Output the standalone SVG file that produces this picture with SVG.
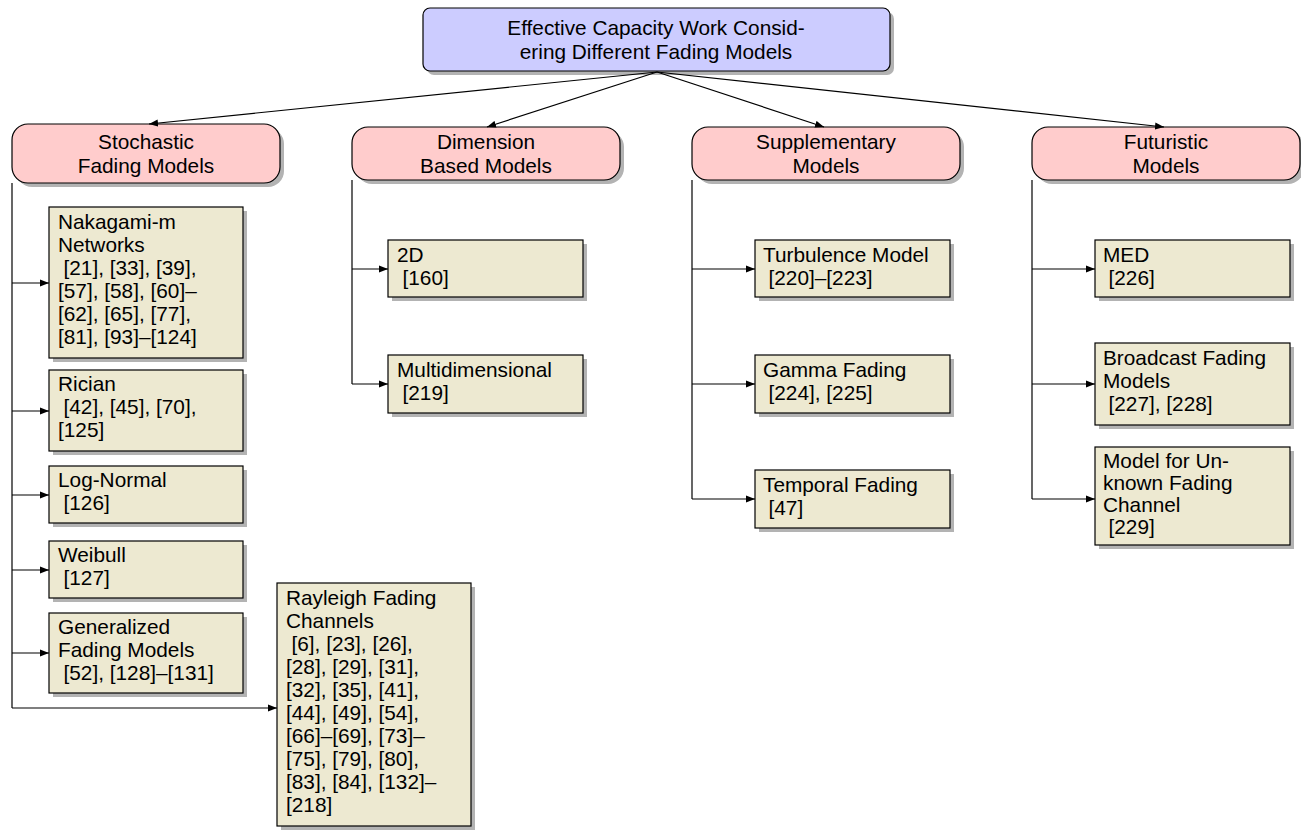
<svg xmlns="http://www.w3.org/2000/svg" width="1301" height="833" viewBox="0 0 1301 833">
<style>
text{font-family:"Liberation Sans",Arial,Helvetica,sans-serif;font-size:20.8px;fill:#000}
.c{text-anchor:middle}
.shadow{fill:#b3b3b3;stroke:none}
.root{fill:#ccccff;stroke:#000;stroke-width:1.2}
.cat{fill:#ffcccc;stroke:#000;stroke-width:1.2}
.leaf{fill:#ede9d1;stroke:#000;stroke-width:1.2}
.conn line,.conn polyline{fill:none;stroke:#000;stroke-width:1.2}
</style>
<defs>
<marker id="ah" markerUnits="userSpaceOnUse" markerWidth="10" markerHeight="8" refX="9" refY="4" orient="auto">
<path d="M0,0.5 L9,4 L0,7.5 Z" fill="#000"/>
</marker>
</defs>
<rect width="1301" height="833" fill="#fff"/>

<g id="root">
<rect class="shadow" x="427" y="12" width="467" height="63" rx="7"/>
<rect class="root" x="423" y="8" width="467" height="63" rx="7"/>
<text class="c"><tspan x="656" y="35">Effective Capacity Work Consid-</tspan><tspan x="656" y="59">ering Different Fading Models</tspan></text>
</g>

<g id="stochastic">
<rect class="shadow" x="16" y="128" width="268" height="59" rx="16"/>
<rect class="cat" x="12" y="124" width="268" height="59" rx="16"/>
<text class="c"><tspan x="146" y="149">Stochastic</tspan><tspan x="146" y="173">Fading Models</tspan></text>
</g>
<g id="dimension">
<rect class="shadow" x="356" y="131" width="268" height="53" rx="16"/>
<rect class="cat" x="352" y="127" width="268" height="53" rx="16"/>
<text class="c"><tspan x="486" y="149">Dimension</tspan><tspan x="486" y="173">Based Models</tspan></text>
</g>
<g id="supplementary">
<rect class="shadow" x="696" y="131" width="268" height="53" rx="16"/>
<rect class="cat" x="692" y="127" width="268" height="53" rx="16"/>
<text class="c"><tspan x="826" y="149">Supplementary</tspan><tspan x="826" y="173">Models</tspan></text>
</g>
<g id="futuristic">
<rect class="shadow" x="1036" y="131" width="268" height="53" rx="16"/>
<rect class="cat" x="1032" y="127" width="268" height="53" rx="16"/>
<text class="c"><tspan x="1166" y="149">Futuristic</tspan><tspan x="1166" y="173">Models</tspan></text>
</g>

<g id="nakagami">
<rect class="shadow" x="53" y="211" width="194" height="151"/>
<rect class="leaf" x="49" y="207" width="194" height="151"/>
<text><tspan x="58" y="229">Nakagami-m</tspan><tspan x="58" y="252">Networks</tspan><tspan x="63.5" y="275">[21], [33], [39],</tspan><tspan x="58" y="298">[57], [58], [60]–</tspan><tspan x="58" y="321">[62], [65], [77],</tspan><tspan x="58" y="344">[81], [93]–[124]</tspan></text>
</g>
<g id="rician">
<rect class="shadow" x="53" y="374" width="194" height="81"/>
<rect class="leaf" x="49" y="370" width="194" height="81"/>
<text><tspan x="58" y="391">Rician</tspan><tspan x="63.5" y="414">[42], [45], [70],</tspan><tspan x="58" y="437">[125]</tspan></text>
</g>
<g id="lognormal">
<rect class="shadow" x="53" y="470" width="194" height="57"/>
<rect class="leaf" x="49" y="466" width="194" height="57"/>
<text><tspan x="58" y="487">Log-Normal</tspan><tspan x="63.5" y="510">[126]</tspan></text>
</g>
<g id="weibull">
<rect class="shadow" x="53" y="545" width="194" height="57"/>
<rect class="leaf" x="49" y="541" width="194" height="57"/>
<text><tspan x="58" y="562">Weibull</tspan><tspan x="63.5" y="585">[127]</tspan></text>
</g>
<g id="generalized">
<rect class="shadow" x="53" y="617" width="194" height="80"/>
<rect class="leaf" x="49" y="613" width="194" height="80"/>
<text><tspan x="58" y="634">Generalized</tspan><tspan x="58" y="657">Fading Models</tspan><tspan x="63.5" y="680">[52], [128]–[131]</tspan></text>
</g>
<g id="rayleigh">
<rect class="shadow" x="281" y="587" width="194" height="243"/>
<rect class="leaf" x="277" y="583" width="194" height="243"/>
<text><tspan x="286" y="605">Rayleigh Fading</tspan><tspan x="286" y="628">Channels</tspan><tspan x="291.5" y="651">[6], [23], [26],</tspan><tspan x="286" y="674">[28], [29], [31],</tspan><tspan x="286" y="697">[32], [35], [41],</tspan><tspan x="286" y="720">[44], [49], [54],</tspan><tspan x="286" y="743">[66]–[69], [73]–</tspan><tspan x="286" y="766">[75], [79], [80],</tspan><tspan x="286" y="789">[83], [84], [132]–</tspan><tspan x="286" y="812">[218]</tspan></text>
</g>

<g id="d2">
<rect class="shadow" x="392" y="244" width="195" height="57"/>
<rect class="leaf" x="388" y="240" width="195" height="57"/>
<text><tspan x="397" y="262">2D</tspan><tspan x="402.5" y="285">[160]</tspan></text>
</g>
<g id="multidim">
<rect class="shadow" x="392" y="359" width="195" height="58"/>
<rect class="leaf" x="388" y="355" width="195" height="58"/>
<text><tspan x="397" y="377">Multidimensional</tspan><tspan x="402.5" y="400">[219]</tspan></text>
</g>

<g id="turbulence">
<rect class="shadow" x="759" y="244" width="195" height="57"/>
<rect class="leaf" x="755" y="240" width="195" height="57"/>
<text><tspan x="763" y="262">Turbulence Model</tspan><tspan x="768.5" y="285">[220]–[223]</tspan></text>
</g>
<g id="gamma">
<rect class="shadow" x="759" y="359" width="195" height="58"/>
<rect class="leaf" x="755" y="355" width="195" height="58"/>
<text><tspan x="763" y="377">Gamma Fading</tspan><tspan x="768.5" y="400">[224], [225]</tspan></text>
</g>
<g id="temporal">
<rect class="shadow" x="759" y="474" width="195" height="58"/>
<rect class="leaf" x="755" y="470" width="195" height="58"/>
<text><tspan x="763" y="492">Temporal Fading</tspan><tspan x="768.5" y="515">[47]</tspan></text>
</g>

<g id="med">
<rect class="shadow" x="1099" y="244" width="195" height="57"/>
<rect class="leaf" x="1095" y="240" width="195" height="57"/>
<text><tspan x="1103" y="262">MED</tspan><tspan x="1108.5" y="285">[226]</tspan></text>
</g>
<g id="broadcast">
<rect class="shadow" x="1099" y="347" width="195" height="82"/>
<rect class="leaf" x="1095" y="343" width="195" height="82"/>
<text><tspan x="1103" y="365">Broadcast Fading</tspan><tspan x="1103" y="388">Models</tspan><tspan x="1108.5" y="411">[227], [228]</tspan></text>
</g>
<g id="unknown">
<rect class="shadow" x="1099" y="451" width="195" height="98"/>
<rect class="leaf" x="1095" y="447" width="195" height="98"/>
<text><tspan x="1103" y="468">Model for Un-</tspan><tspan x="1103" y="490">known Fading</tspan><tspan x="1103" y="512">Channel</tspan><tspan x="1108.5" y="534">[229]</tspan></text>
</g>

<g id="connectors" class="conn">
<line x1="657" y1="72" x2="149" y2="124" marker-end="url(#ah)"/>
<line x1="657" y1="72" x2="487" y2="127" marker-end="url(#ah)"/>
<line x1="657" y1="72" x2="824" y2="127" marker-end="url(#ah)"/>
<line x1="657" y1="72" x2="1164" y2="127" marker-end="url(#ah)"/>

<line x1="12" y1="183" x2="12" y2="708"/>
<line x1="12" y1="283" x2="49" y2="283" marker-end="url(#ah)"/>
<line x1="12" y1="411" x2="49" y2="411" marker-end="url(#ah)"/>
<line x1="12" y1="495" x2="49" y2="495" marker-end="url(#ah)"/>
<line x1="12" y1="570" x2="49" y2="570" marker-end="url(#ah)"/>
<line x1="12" y1="653" x2="49" y2="653" marker-end="url(#ah)"/>
<line x1="12" y1="708" x2="277" y2="708" marker-end="url(#ah)"/>

<line x1="352" y1="180" x2="352" y2="384"/>
<line x1="352" y1="269" x2="388" y2="269" marker-end="url(#ah)"/>
<line x1="352" y1="384" x2="388" y2="384" marker-end="url(#ah)"/>

<line x1="692" y1="180" x2="692" y2="499"/>
<line x1="692" y1="269" x2="755" y2="269" marker-end="url(#ah)"/>
<line x1="692" y1="384" x2="755" y2="384" marker-end="url(#ah)"/>
<line x1="692" y1="499" x2="755" y2="499" marker-end="url(#ah)"/>

<line x1="1032" y1="180" x2="1032" y2="499"/>
<line x1="1032" y1="269" x2="1095" y2="269" marker-end="url(#ah)"/>
<line x1="1032" y1="384" x2="1095" y2="384" marker-end="url(#ah)"/>
<line x1="1032" y1="499" x2="1095" y2="499" marker-end="url(#ah)"/>
</g>
</svg>
